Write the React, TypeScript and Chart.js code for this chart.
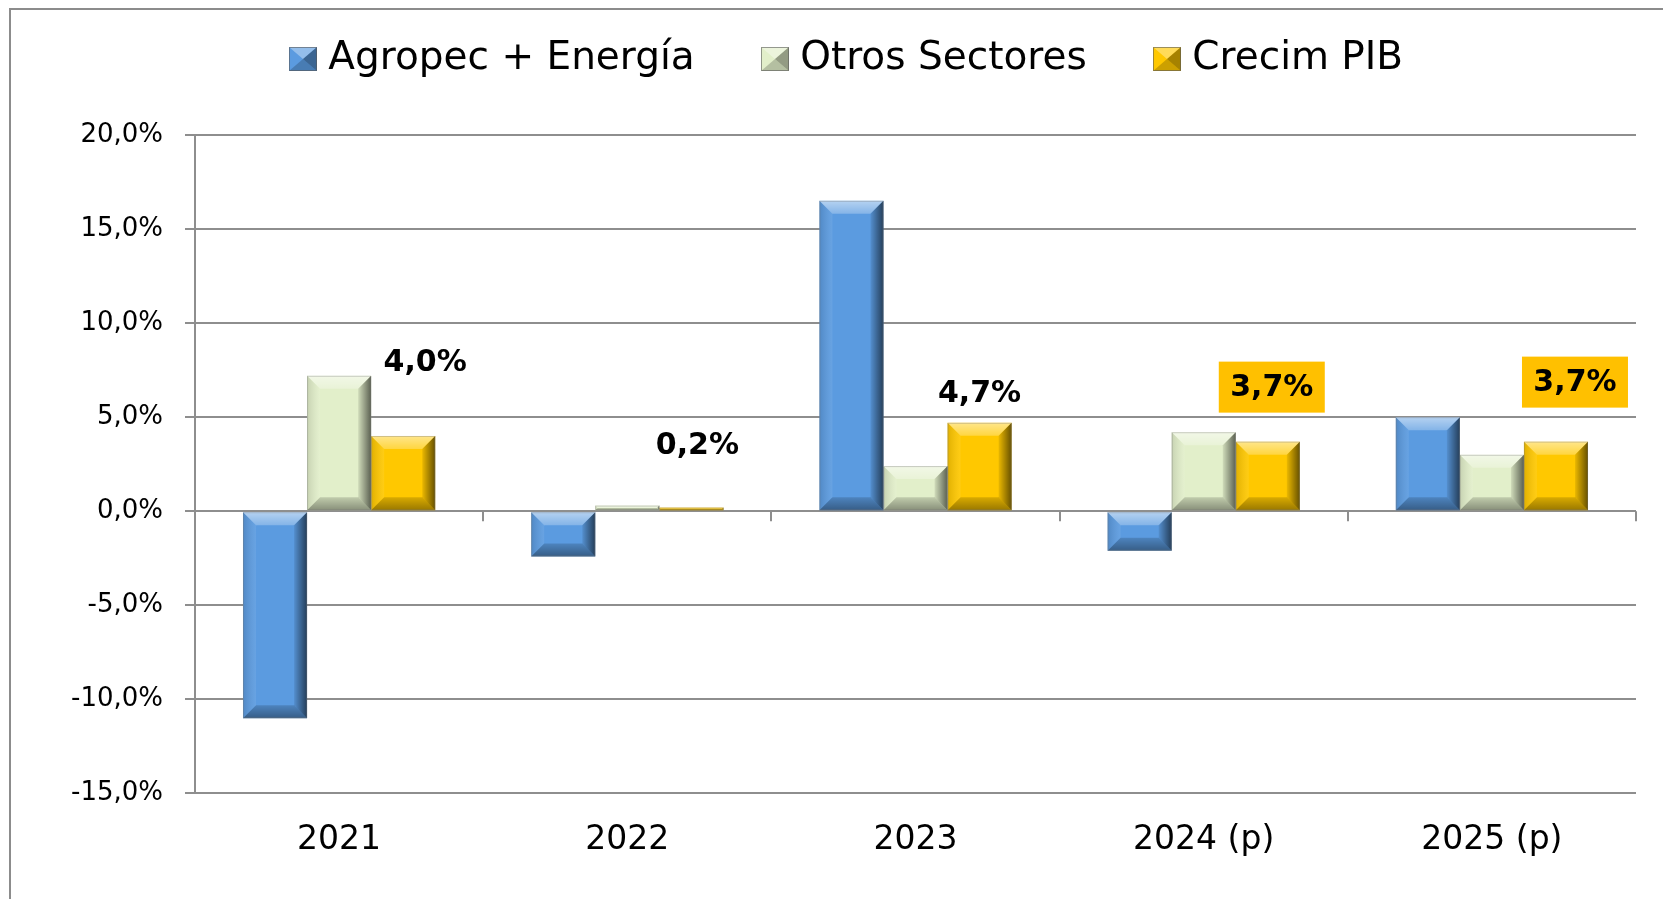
import React, { useEffect, useRef } from "react";
import { Chart, registerables } from "chart.js";

Chart.register(...registerables);

const categories = ["2021", "2022", "2023", "2024 (p)", "2025 (p)"];
const seriesNames = ["Agropec + Energía", "Otros Sectores", "Crecim PIB"];
const agropecEnergia = [-11.0, -2.4, 16.5, -2.1, 5.0];
const otrosSectores = [7.2, 0.3, 2.4, 4.2, 3.0];
const crecimPIB = [4.0, 0.2, 4.7, 3.7, 3.7];
const yTickValues = [-15, -10, -5, 0, 5, 10, 15, 20];
const highlightedLabels = [false, false, false, true, true];

const seriesColors = ["#5B9BE0", "#E2EFCA", "#FFC800"];
const labelOffsets = [
  [22, -74],
  [6, -62],
  [0, -30],
  [4, -54],
  [19, -59],
];

const fmt = (v: number) => v.toFixed(1).replace(".", ",") + "%";

function drawBevel(ctx: CanvasRenderingContext2D, l: number, t: number, r: number, bo: number, bMax: number) {
  const w = r - l;
  const h = bo - t;
  if (w <= 0 || h <= 0) return;
  const b = Math.min(bMax, w / 2, h / 2);
  ctx.save();
  let g = ctx.createLinearGradient(0, t, 0, t + b);
  g.addColorStop(0, "rgba(255,255,255,0.55)");
  g.addColorStop(1, "rgba(255,255,255,0.25)");
  ctx.fillStyle = g;
  ctx.beginPath();
  ctx.moveTo(l, t);
  ctx.lineTo(r, t);
  ctx.lineTo(r - b, t + b);
  ctx.lineTo(l + b, t + b);
  ctx.closePath();
  ctx.fill();
  g = ctx.createLinearGradient(l, 0, l + b, 0);
  g.addColorStop(0, "rgba(0,0,0,0.12)");
  g.addColorStop(1, "rgba(255,255,255,0.08)");
  ctx.fillStyle = g;
  ctx.beginPath();
  ctx.moveTo(l, t);
  ctx.lineTo(l + b, t + b);
  ctx.lineTo(l + b, bo - b);
  ctx.lineTo(l, bo);
  ctx.closePath();
  ctx.fill();
  g = ctx.createLinearGradient(r - b, 0, r, 0);
  g.addColorStop(0, "rgba(0,0,0,0.08)");
  g.addColorStop(1, "rgba(0,0,0,0.6)");
  ctx.fillStyle = g;
  ctx.beginPath();
  ctx.moveTo(r, t);
  ctx.lineTo(r, bo);
  ctx.lineTo(r - b, bo - b);
  ctx.lineTo(r - b, t + b);
  ctx.closePath();
  ctx.fill();
  g = ctx.createLinearGradient(0, bo - b, 0, bo);
  g.addColorStop(0, "rgba(0,0,0,0.15)");
  g.addColorStop(1, "rgba(0,0,0,0.4)");
  ctx.fillStyle = g;
  ctx.beginPath();
  ctx.moveTo(l, bo);
  ctx.lineTo(r, bo);
  ctx.lineTo(r - b, bo - b);
  ctx.lineTo(l + b, bo - b);
  ctx.closePath();
  ctx.fill();
  ctx.restore();
}

const bevelPlugin = {
  id: "bevel",
  afterDatasetsDraw(chart: any) {
    const ctx = chart.ctx;
    chart.data.datasets.forEach((_: any, di: number) => {
      const meta = chart.getDatasetMeta(di);
      meta.data.forEach((el: any) => {
        const { x, y, base, width } = el.getProps(["x", "y", "base", "width"], true);
        const l = x - width / 2;
        const r = x + width / 2;
        const t = Math.min(y, base);
        const bo = Math.max(y, base);
        drawBevel(ctx, l, t, r, bo, 13);
        ctx.save();
        ctx.strokeStyle = "rgba(120,120,120,0.35)";
        ctx.lineWidth = 1;
        ctx.strokeRect(l + 0.5, t + 0.5, width - 1, bo - t - 1);
        ctx.restore();
      });
    });
  },
};

const categoryTicksPlugin = {
  id: "categoryTicks",
  afterDatasetsDraw(chart: any) {
    const ctx = chart.ctx;
    const xs = chart.scales.x;
    const ys = chart.scales.y;
    const y0 = ys.getPixelForValue(0);
    const n = categories.length;
    const half = (xs.getPixelForValue(1) - xs.getPixelForValue(0)) / 2;
    ctx.save();
    ctx.strokeStyle = "#8e8e8e";
    ctx.lineWidth = 2;
    for (let i = 1; i <= n; i++) {
      const px = Math.round(xs.getPixelForValue(i - 1) + half);
      ctx.beginPath();
      ctx.moveTo(px, y0);
      ctx.lineTo(px, y0 + 10);
      ctx.stroke();
    }
    ctx.restore();
  },
};

const valueLabelsPlugin = {
  id: "valueLabels",
  afterDatasetsDraw(chart: any) {
    const ctx = chart.ctx;
    const meta = chart.getDatasetMeta(2);
    ctx.save();
    ctx.font = "bold 30px 'DejaVu Sans'";
    ctx.textAlign = "center";
    ctx.textBaseline = "middle";
    meta.data.forEach((el: any, i: number) => {
      const { x, y } = el.getProps(["x", "y"], true);
      const cx = x + labelOffsets[i][0];
      const cy = y + labelOffsets[i][1];
      if (highlightedLabels[i]) {
        ctx.fillStyle = "#FFC000";
        ctx.fillRect(cx - 53, cy - 26, 106, 51);
      }
      ctx.fillStyle = "#000";
      ctx.fillText(fmt(crecimPIB[i]), cx, cy + 1);
    });
    ctx.restore();
  },
};

const legendPlugin = {
  id: "legendSpacing",
  beforeInit(chart: any) {
    const orig = chart.legend.fit;
    chart.legend.fit = function fit() {
      orig.bind(chart.legend)();
      this.height += 47;
    };
  },
  afterDraw(chart: any) {
    const boxes = chart.legend?.legendHitBoxes || [];
    const ctx = chart.ctx;
    boxes.forEach((hb: any, i: number) => {
      const bh = 24;
      const top = Math.round(hb.top + (hb.height - bh) / 2);
      const l = Math.round(hb.left);
      const r = l + 28;
      const bo = top + bh;
      const cx = (l + r) / 2;
      const cy = (top + bo) / 2;
      ctx.save();
      ctx.fillStyle = seriesColors[i];
      ctx.fillRect(l, top, 28, bh);
      ctx.fillStyle = "rgba(255,255,255,0.35)";
      ctx.beginPath();
      ctx.moveTo(l, top); ctx.lineTo(r, top); ctx.lineTo(cx, cy); ctx.closePath(); ctx.fill();
      ctx.fillStyle = "rgba(0,0,0,0.35)";
      ctx.beginPath();
      ctx.moveTo(r, top); ctx.lineTo(r, bo); ctx.lineTo(cx, cy); ctx.closePath(); ctx.fill();
      ctx.fillStyle = "rgba(0,0,0,0.2)";
      ctx.beginPath();
      ctx.moveTo(l, bo); ctx.lineTo(r, bo); ctx.lineTo(cx, cy); ctx.closePath(); ctx.fill();
      ctx.strokeStyle = "rgba(90,90,90,0.6)";
      ctx.lineWidth = 1;
      ctx.strokeRect(l + 0.5, top + 0.5, 27, bh - 1);
      ctx.restore();
    });
  },
};

export default function App() {
  const ref = useRef<HTMLCanvasElement>(null);

  useEffect(() => {
    const canvas = ref.current;
    if (!canvas) return;
    const seriesValues = [agropecEnergia, otrosSectores, crecimPIB];
    const chart = new Chart(canvas, {
      type: "bar",
      data: {
        labels: categories,
        datasets: seriesNames.map((name, i) => ({
          label: name,
          data: seriesValues[i],
          backgroundColor: seriesColors[i],
          borderWidth: 0,
          categoryPercentage: 0.667,
          barPercentage: 1.0,
        })),
      },
      options: {
        responsive: false,
        animation: false,
        maintainAspectRatio: false,
        layout: { padding: { top: -27, right: 27, bottom: 12, left: 56 } },
        plugins: {
          tooltip: { enabled: false },
          legend: {
            display: true,
            position: "top",
            align: "center",
            labels: {
              color: "#000",
              font: { family: "'DejaVu Sans'", size: 39 },
              boxWidth: 20,
              boxHeight: 24,
              padding: 66,
              generateLabels: (c: any) =>
                c.data.datasets.map((ds: any, i: number) => ({
                  text: ds.label,
                  fillStyle: "rgba(0,0,0,0)",
                  strokeStyle: "rgba(0,0,0,0)",
                  lineWidth: 0,
                  hidden: false,
                  datasetIndex: i,
                  fontColor: "#000",
                })),
            },
          },
        },
        scales: {
          x: {
            grid: { display: false, drawTicks: false },
            border: { display: false },
            ticks: {
              color: "#000",
              font: { family: "'DejaVu Sans'", size: 33 },
              padding: 27,
            },
          },
          y: {
            min: -15,
            max: 20,
            afterBuildTicks: (s: any) => {
              s.ticks = yTickValues.map((v) => ({ value: v }));
            },
            afterFit: (s: any) => {
              s.width = 139;
            },
            grid: { color: "#8e8e8e", lineWidth: 2, tickLength: 10, drawTicks: true },
            border: { color: "#8e8e8e", width: 2 },
            ticks: {
              color: "#000",
              font: { family: "'DejaVu Sans'", size: 26 },
              padding: 22,
              callback: (v: any) => fmt(Number(v)),
            },
          },
        },
      },
      plugins: [legendPlugin, bevelPlugin, categoryTicksPlugin, valueLabelsPlugin],
    });
    return () => chart.destroy();
  }, []);

  return (
    <div
      style={{
        position: "fixed",
        left: 0,
        top: 0,
        width: 1663,
        height: 899,
        background: "#fff",
        overflow: "hidden",
      }}
    >
      <div
        style={{
          position: "absolute",
          left: 9,
          top: 8,
          width: 1700,
          height: 1000,
          borderLeft: "2px solid #8c8c8c",
          borderTop: "2px solid #8c8c8c",
        }}
      />
      <canvas
        ref={ref}
        width={1663}
        height={899}
        style={{ position: "absolute", left: 0, top: 0, width: 1663, height: 899 }}
      />
    </div>
  );
}
